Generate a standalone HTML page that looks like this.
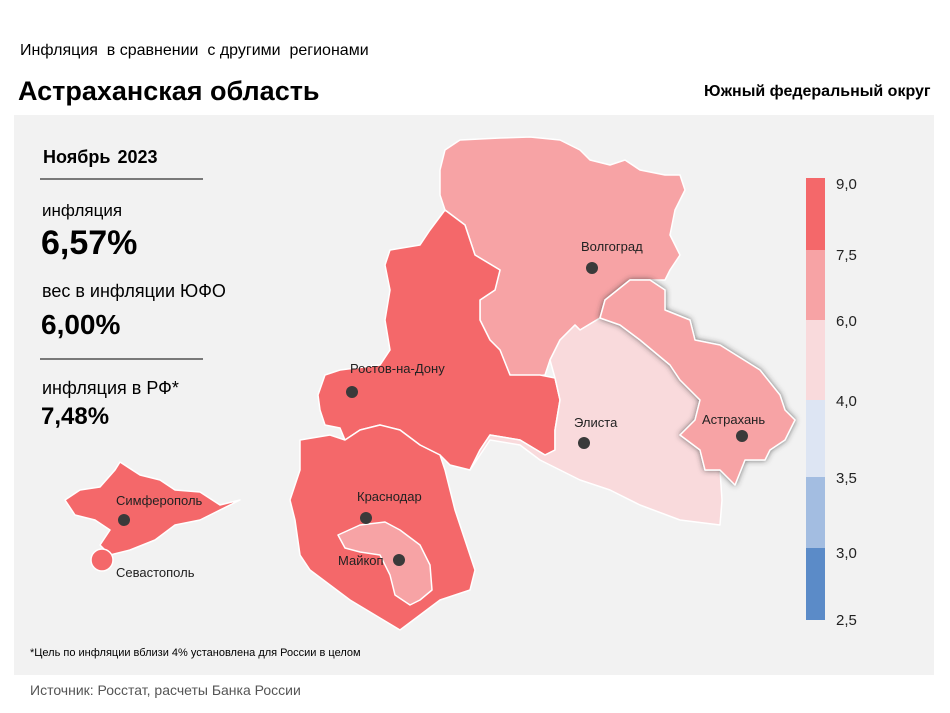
<!DOCTYPE html>
<html><head><meta charset="utf-8"><style>
body{margin:0;width:950px;height:713px;background:#fff;font-family:"Liberation Sans",sans-serif;position:relative;overflow:hidden}
.t{position:absolute;white-space:nowrap;color:#000}
</style></head><body>
<div class="t" style="left:20px;top:42px;font-size:16px">Инфляция&nbsp; в сравнении&nbsp; с другими&nbsp; регионами</div>
<div class="t" style="left:18px;top:76px;font-size:27px;font-weight:bold">Астраханская область</div>
<div class="t" style="left:704px;top:83px;font-size:16px;font-weight:bold">Южный федеральный округ</div>
<div style="position:absolute;left:14px;top:115px;width:920px;height:560px;background:#f2f2f2"></div>
<svg style="position:absolute;left:0;top:0" width="950" height="713">
<defs><filter id="sh"><feDropShadow dx="0" dy="0" stdDeviation="3" flood-color="#333" flood-opacity="0.7"/></filter></defs>
<g stroke="#fff" stroke-width="1.5" stroke-linejoin="round">
<polygon fill="#f7a3a5" points="440,170 445,150 460,140 500,138 530,137 560,140 580,150 590,160 610,165 625,160 640,170 665,175 680,175 685,190 675,210 670,235 680,255 670,270 665,280 630,280 605,300 600,318 580,330 575,325 560,340 550,360 545,375 520,378 510,375 500,350 490,340 480,320 480,300 495,290 500,270 475,255 470,240 465,225 445,210 440,195"/>
<polygon fill="#f4686a" points="445,210 465,225 470,240 475,255 500,270 495,290 480,300 480,320 490,340 500,350 510,375 540,375 555,378 560,400 555,430 555,450 545,455 520,440 490,435 480,450 470,470 450,465 440,455 420,445 400,430 380,425 360,430 345,440 340,428 325,425 320,410 318,395 325,375 340,370 380,365 390,350 385,320 390,290 385,265 390,250 420,245 430,230"/>
<polygon fill="#f9dadc" points="550,360 560,340 575,325 580,330 600,318 620,325 640,340 670,365 680,380 700,400 695,420 680,435 700,450 705,470 720,470 722,500 720,525 680,520 640,505 610,490 580,480 560,470 540,460 520,445 490,440 470,470 480,450 490,435 520,440 545,455 555,450 555,430 560,400 555,378"/>
<polygon fill="#f4686a" points="300,440 330,435 345,440 360,430 380,425 400,430 420,445 440,455 445,470 450,490 455,510 465,540 475,570 470,590 440,600 420,615 400,630 375,615 350,600 330,585 310,570 300,555 295,520 290,500 300,470"/>
<polygon fill="#f7a3a5" points="338,535 360,525 385,522 400,530 420,545 430,565 432,590 420,600 410,605 395,595 390,575 380,555 360,552 345,548"/>
<polygon fill="#f4686a" points="65,500 80,490 100,487 115,470 120,462 140,475 160,480 175,490 200,492 220,505 240,500 200,520 175,525 155,540 130,550 110,555 100,545 110,530 95,520 75,515"/>
<circle cx="102" cy="560" r="11" fill="#f4686a"/>
<polygon fill="#f7a3a5" filter="url(#sh)" points="605,300 630,280 650,280 665,290 665,310 690,320 695,340 720,345 760,370 780,395 785,410 795,420 785,440 770,450 765,460 745,460 735,485 720,470 705,470 700,450 680,435 695,420 700,400 680,380 670,365 640,340 620,325 600,318"/>
</g>
<g fill="#3a3a3a"><circle cx="592" cy="268" r="6"/><circle cx="352" cy="392" r="6"/><circle cx="584" cy="443" r="6"/><circle cx="742" cy="436" r="6"/><circle cx="124" cy="520" r="6"/><circle cx="366" cy="518" r="6"/><circle cx="399" cy="560" r="6"/></g>
<g font-family="Liberation Sans" font-size="13" fill="#222">
<text x="581" y="251">Волгоград</text><text x="350" y="373">Ростов-на-Дону</text><text x="574" y="427">Элиста</text><text x="702" y="424">Астрахань</text>
<text x="116" y="505">Симферополь</text><text x="357" y="501">Краснодар</text><text x="338" y="565">Майкоп</text><text x="116" y="577">Севастополь</text></g>
<rect x="806" y="178" width="19" height="72" fill="#f4686a"/><rect x="806" y="250" width="19" height="70" fill="#f7a3a5"/><rect x="806" y="320" width="19" height="80" fill="#f9dadc"/><rect x="806" y="400" width="19" height="77" fill="#dde5f3"/><rect x="806" y="477" width="19" height="71" fill="#a3bde1"/><rect x="806" y="548" width="19" height="72" fill="#5b8bc8"/>
<g font-family="Liberation Sans" font-size="15" fill="#222"><text x="836" y="189">9,0</text><text x="836" y="260">7,5</text><text x="836" y="326">6,0</text><text x="836" y="406">4,0</text><text x="836" y="483">3,5</text><text x="836" y="558">3,0</text><text x="836" y="625">2,5</text></g>
<line x1="40" y1="179" x2="203" y2="179" stroke="#000"/><line x1="40" y1="359" x2="203" y2="359" stroke="#000"/>
</svg>
<div class="t" style="left:43px;top:147px;font-size:18px;font-weight:bold;word-spacing:2px">Ноябрь 2023</div>
<div class="t" style="left:42px;top:201px;font-size:17px">инфляция</div>
<div class="t" style="left:41px;top:224px;font-size:34px;font-weight:bold">6,57%</div>
<div class="t" style="left:42px;top:281px;font-size:18px">вес в инфляции ЮФО</div>
<div class="t" style="left:41px;top:309px;font-size:28px;font-weight:bold">6,00%</div>
<div class="t" style="left:42px;top:378px;font-size:18px">инфляция в РФ*</div>
<div class="t" style="left:41px;top:403px;font-size:24px;font-weight:bold">7,48%</div>
<div class="t" style="left:30px;top:647px;font-size:11px">*Цель по инфляции вблизи 4% установлена для России в целом</div>
<div class="t" style="left:30px;top:682px;font-size:14px;color:#555">Источник: Росстат, расчеты Банка России</div>
</body></html>
